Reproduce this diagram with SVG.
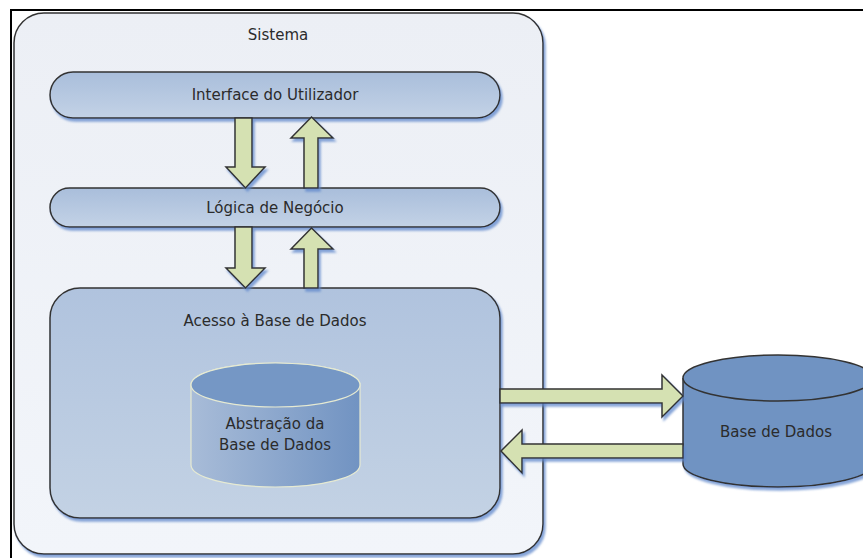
<svg xmlns="http://www.w3.org/2000/svg" width="863" height="558" viewBox="0 0 863 558">
  <defs>
    <linearGradient id="sysFill" x1="0" y1="0" x2="0" y2="1">
      <stop offset="0" stop-color="#eceff5"/>
      <stop offset="1" stop-color="#f2f5fa"/>
    </linearGradient>
    <linearGradient id="layerFill" x1="0" y1="0" x2="0" y2="1">
      <stop offset="0" stop-color="#a9bedb"/>
      <stop offset="1" stop-color="#c3d2e6"/>
    </linearGradient>
    <linearGradient id="accessFill" x1="0" y1="0" x2="0" y2="1">
      <stop offset="0" stop-color="#b0c3de"/>
      <stop offset="1" stop-color="#c3d2e4"/>
    </linearGradient>
    <linearGradient id="cylBody" x1="0" y1="0" x2="1" y2="0">
      <stop offset="0" stop-color="#a8bcd8"/>
      <stop offset="1" stop-color="#7193c2"/>
    </linearGradient>
    <filter id="shadow" x="-10%" y="-10%" width="120%" height="130%">
      <feDropShadow dx="2" dy="3" stdDeviation="1.2" flood-color="#5f88cc" flood-opacity="0.75"/>
    </filter>
  </defs>
  <style>
    .label { font-family: "DejaVu Sans", "Liberation Sans", sans-serif; font-size: 15px; fill: #2b2b2b; text-anchor: middle; }
    .box { stroke: #333; stroke-width: 1.5; }
    .arrow { fill: #d5e1b2; stroke: #333; stroke-width: 1.5; stroke-linejoin: miter; }
    .frame { stroke: #000; stroke-width: 2; fill: none; }
  </style>

  <rect width="863" height="558" fill="#ffffff"/>

  <!-- page frame -->
  <path class="frame" d="M11,558 V10 H863"/>

  <!-- system container -->
  <g id="sistema">
    <rect class="box" x="14" y="13" width="529" height="541" rx="30" fill="url(#sysFill)" filter="url(#shadow)"/>
    <text class="label" x="278" y="40">Sistema</text>
  </g>

  <g id="interface-utilizador">
    <rect class="box" x="50" y="72" width="450" height="46" rx="23" fill="url(#layerFill)" filter="url(#shadow)"/>
    <text class="label" x="275" y="100">Interface do Utilizador</text>
  </g>

  <g id="logica-negocio">
    <rect class="box" x="50" y="188" width="450" height="39" rx="19.5" fill="url(#layerFill)" filter="url(#shadow)"/>
    <text class="label" x="275" y="213">Lógica de Negócio</text>
  </g>

  <g id="acesso-base-dados">
    <rect class="box" x="50" y="288" width="450" height="230" rx="30" fill="url(#accessFill)" filter="url(#shadow)"/>
    <text class="label" x="275" y="326">Acesso à Base de Dados</text>
  </g>

  <g id="abstracao-base-dados">
    <path d="M191,385 V465 A84.5,22 0 0 0 360,465 V385 A84.5,22 0 0 0 191,385 Z" fill="url(#cylBody)" stroke="#e6ead2" stroke-width="1.2"/>
    <ellipse cx="275.5" cy="385" rx="84.5" ry="22" fill="#7597c5" stroke="#e6ead2" stroke-width="1.2"/>
    <text class="label" x="275" y="429">Abstração da</text>
    <text class="label" x="275" y="450">Base de Dados</text>
  </g>

  <g id="base-dados">
    <path class="box" d="M683,378 V464 A95,23 0 0 0 873,464 V378" fill="#7093c2" filter="url(#shadow)"/>
    <ellipse class="box" cx="778" cy="378" rx="95" ry="23" fill="#7093c2"/>
    <text class="label" x="776" y="437">Base de Dados</text>
  </g>

  <!-- connectors -->
  <g id="connectors" filter="url(#shadow)">
    <!-- Interface -> Lógica -->
    <path class="arrow" d="M235,118 H252 V167 H265 L245.5,188 L226,167 H235 Z"/>
    <!-- Lógica -> Interface -->
    <path class="arrow" d="M304,188 V138 H291 L311.5,117 L333,138 H318 V188 Z"/>
    <!-- Lógica -> Acesso -->
    <path class="arrow" d="M235,227 H252 V268 H265 L245.5,288 L226,268 H235 Z"/>
    <!-- Acesso -> Lógica -->
    <path class="arrow" d="M304,288 V249 H291 L311.5,228 L333,249 H318 V288 Z"/>
    <!-- Acesso -> Base de Dados -->
    <path class="arrow" d="M500,389 H662 V375 L683,396 L662,417 V403 H500 Z"/>
    <!-- Base de Dados -> Acesso -->
    <path class="arrow" d="M683,444 H522 V430 L501,451 L522,473 V458 H683 Z"/>
  </g>
</svg>
